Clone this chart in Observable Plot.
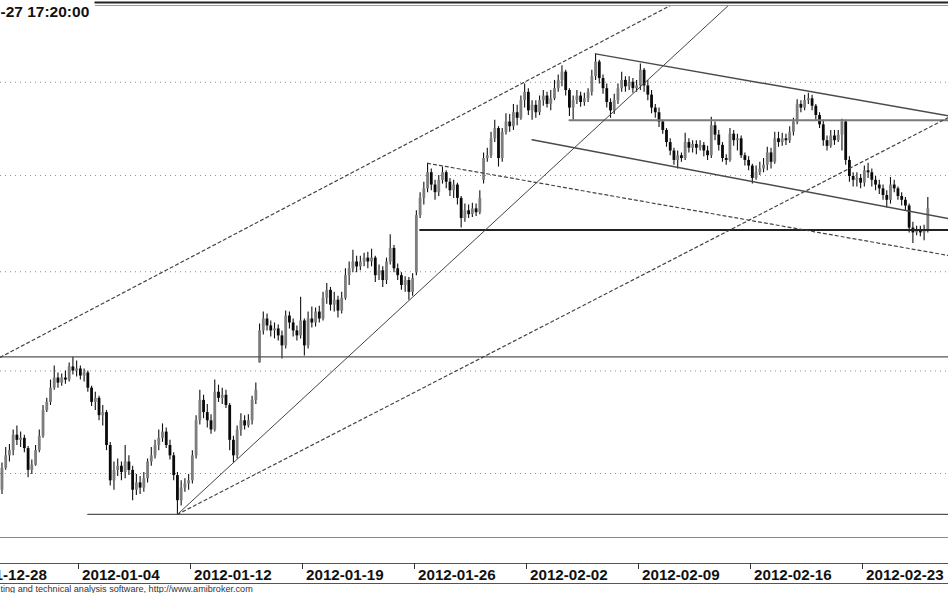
<!DOCTYPE html>
<html><head><meta charset="utf-8">
<script src="https://cdn.jsdelivr.net/npm/d3@7"></script>
<script src="https://cdn.jsdelivr.net/npm/@observablehq/plot@0.6"></script>
<style>
html,body{margin:0;padding:0;background:#fff;}
#chart svg{display:block;overflow:hidden;}
</style></head><body><div id="chart"></div>
<script>
// trading sessions (6 intraday bars per session)
const days = ["2011-12-28","2011-12-29","2011-12-30","2012-01-02","2012-01-03","2012-01-04","2012-01-05","2012-01-09","2012-01-10","2012-01-11","2012-01-12","2012-01-13","2012-01-16","2012-01-17","2012-01-18","2012-01-19","2012-01-20","2012-01-23","2012-01-24","2012-01-25","2012-01-26","2012-01-27","2012-01-30","2012-01-31","2012-02-01","2012-02-02","2012-02-03","2012-02-06","2012-02-07","2012-02-08","2012-02-09","2012-02-10","2012-02-13","2012-02-14","2012-02-15","2012-02-16","2012-02-17","2012-02-20","2012-02-21","2012-02-22","2012-02-23","2012-02-24","2012-02-27"];
const barsPerDay = 6;

const open = [
29.95,29.93,29.89,29.84,29.86,29.82, 29.84,29.86,29.82,29.84,30.05,30.17, 30.22,30.37,30.32,30.34,30.24,30.03,
30.08,30.22,30.36,30.61,30.69,30.83, 30.93,30.88,30.93,30.91,31.04,31.00, 31.02,30.95,30.98,30.83,30.69,30.73,
30.56,30.59,30.27,29.93,30.03,30.07, 30.01,30.11,30.03,29.84,29.91,29.86, 29.95,30.11,30.17,30.27,30.34,30.40,
30.27,30.17,29.98,29.74,29.86,29.90, 29.93,30.17,30.51,30.71,30.59,30.51, 30.42,30.79,30.73,30.76,30.66,30.32,
30.17,30.42,30.51,30.46,30.51,30.71, 31.08,31.40,31.52,31.45,31.40,31.42, 31.35,31.25,31.55,31.48,31.40,31.35,
31.50,31.25,31.52,31.48,31.59,31.52, 31.73,31.81,31.66,31.71,31.60,31.73, 31.96,32.03,32.10,32.05,32.10,32.14,
32.10,32.14,31.96,32.01,31.91,32.10, 32.24,32.03,31.96,31.86,31.91,31.79, 31.99,32.58,32.76,32.86,33.03,32.90,
32.82,32.95,33.03,32.93,32.84,32.90, 32.76,32.55,32.63,32.59,32.65,32.61, 32.95,33.18,33.21,33.39,33.50,33.18,
33.46,33.57,33.52,33.67,33.61,33.80, 33.89,33.69,33.75,33.67,33.80,33.85, 33.76,33.82,33.93,34.02,34.11,33.91,
33.72,33.80,33.85,33.78,33.82,33.89, 34.06,34.22,34.04,33.93,33.78,33.69, 33.80,33.93,34.02,33.95,34.00,33.93,
33.96,34.13,33.96,33.86,33.72,33.67, 33.57,33.48,33.35,33.26,33.16,33.21, 33.18,33.35,33.29,33.33,33.29,33.32,
33.26,33.21,33.53,33.43,33.32,33.18, 33.16,33.44,33.37,33.39,33.21,33.16, 33.10,32.97,33.03,33.07,33.11,33.24,
33.14,33.39,33.35,33.39,33.37,33.46, 33.57,33.76,33.72,33.80,33.82,33.74, 33.64,33.54,33.37,33.31,33.42,33.37,
33.43,33.57,33.16,32.99,32.95,32.97, 32.92,33.05,33.03,32.95,32.90,32.86, 32.79,32.74,32.90,32.86,32.78,32.74,
32.68,32.45,32.40,32.42,32.40,32.42];

const high = [
29.99,29.97,29.93,29.90,29.88,29.89, 29.89,29.88,29.86,30.10,30.25,30.28, 30.42,30.46,30.40,30.37,30.26,30.13,
30.27,30.42,30.66,30.73,30.91,31.05, 30.98,30.97,31.00,31.08,31.14,31.10, 31.05,31.02,31.00,30.85,30.79,30.75,
30.66,30.61,30.30,30.11,30.14,30.11, 30.27,30.17,30.07,29.99,29.97,30.01, 30.14,30.25,30.32,30.42,30.48,30.44,
30.32,30.20,30.01,29.93,29.95,29.99, 30.22,30.56,30.81,30.76,30.67,30.57, 30.91,30.86,30.83,30.81,30.68,30.36,
30.46,30.58,30.56,30.57,30.75,30.88, 31.47,31.59,31.57,31.50,31.48,31.46, 31.40,31.60,31.59,31.52,31.45,31.74,
31.52,31.59,31.64,31.63,31.65,31.79, 31.88,31.84,31.79,31.75,31.79,32.03, 32.10,32.22,32.16,32.16,32.19,32.20,
32.23,32.16,32.07,32.05,32.14,32.38, 32.27,32.08,31.99,31.95,31.94,31.98, 32.63,32.82,32.93,33.13,33.07,32.95,
33.00,33.09,33.05,32.97,32.95,32.92, 32.78,32.70,32.69,32.71,32.70,32.84, 33.24,33.29,33.46,33.59,33.52,33.50,
33.66,33.65,33.76,33.75,33.85,33.98, 33.93,33.80,33.80,33.85,33.91,33.89, 33.91,34.02,34.08,34.18,34.13,33.93,
33.85,33.91,33.89,33.88,33.93,34.13, 34.31,34.24,34.08,33.98,33.82,33.87, 33.98,34.11,34.06,34.06,34.04,34.02,
34.20,34.15,34.02,33.91,33.76,33.72, 33.59,33.50,33.39,33.29,33.26,33.24, 33.45,33.39,33.37,33.37,33.37,33.35,
33.31,33.62,33.57,33.48,33.35,33.22, 33.50,33.48,33.44,33.42,33.24,33.20, 33.12,33.10,33.14,33.18,33.30,33.29,
33.46,33.46,33.45,33.44,33.52,33.61, 33.81,33.80,33.86,33.88,33.86,33.76, 33.67,33.59,33.42,33.48,33.48,33.48,
33.60,33.59,33.20,33.03,33.03,33.01, 33.10,33.13,33.07,32.99,32.95,32.90, 32.84,32.98,32.95,32.88,32.82,32.77,
32.70,32.51,32.47,32.47,32.48,32.77];

const low = [
29.90,29.86,29.80,29.82,29.79,29.80, 29.81,29.79,29.78,29.80,30.03,30.11, 30.17,30.27,30.25,30.20,29.96,29.99,
30.07,30.20,30.34,30.59,30.66,30.81, 30.83,30.85,30.87,30.89,30.96,30.94, 30.91,30.89,30.79,30.65,30.61,30.51,
30.46,30.22,29.88,29.84,29.97,29.93, 29.95,29.98,29.74,29.79,29.80,29.82, 29.91,30.07,30.14,30.22,30.30,30.24,
30.13,29.93,29.61,29.69,29.82,29.84, 29.90,30.14,30.47,30.53,30.44,30.38, 30.40,30.69,30.67,30.63,30.22,30.10,
30.14,30.36,30.42,30.44,30.47,30.67, 31.08,31.36,31.40,31.34,31.32,31.30, 31.12,31.22,31.42,31.34,31.30,31.32,
31.15,31.22,31.43,31.44,31.48,31.50, 31.67,31.60,31.59,31.53,31.57,31.71, 31.86,31.99,31.99,32.01,32.05,32.03,
32.05,31.89,31.91,31.84,31.87,32.07, 31.99,31.91,31.81,31.79,31.71,31.75, 31.96,32.55,32.69,32.82,32.84,32.74,
32.78,32.91,32.86,32.78,32.76,32.69, 32.45,32.51,32.55,32.56,32.57,32.59, 32.91,33.14,33.18,33.35,33.09,33.14,
33.43,33.46,33.48,33.53,33.59,33.72, 33.64,33.59,33.61,33.64,33.74,33.72, 33.69,33.80,33.89,33.95,33.85,33.63,
33.59,33.76,33.73,33.74,33.78,33.85, 34.02,33.98,33.87,33.72,33.61,33.65, 33.76,33.89,33.89,33.91,33.88,33.89,
33.91,33.89,33.80,33.66,33.61,33.51, 33.44,33.30,33.21,33.11,33.07,33.14, 33.16,33.24,33.24,33.22,33.26,33.20,
33.16,33.18,33.37,33.26,33.14,33.11, 33.14,33.31,33.26,33.18,33.10,33.05, 32.91,32.95,33.00,33.03,33.05,33.07,
33.12,33.30,33.31,33.32,33.34,33.42, 33.54,33.67,33.69,33.76,33.69,33.59, 33.50,33.31,33.26,33.29,33.32,33.35,
33.26,33.11,32.93,32.88,32.88,32.86, 32.88,32.97,32.88,32.84,32.80,32.74, 32.66,32.70,32.82,32.74,32.68,32.63,
32.40,32.29,32.37,32.36,32.32,32.40];

const close = [
29.93,29.89,29.84,29.86,29.82,29.84, 29.86,29.82,29.84,30.05,30.17,30.22, 30.37,30.32,30.34,30.24,30.03,30.08,
30.22,30.36,30.61,30.69,30.83,30.93, 30.88,30.93,30.91,31.04,31.00,31.02, 30.95,30.98,30.83,30.69,30.73,30.56,
30.59,30.27,29.93,30.03,30.07,30.01, 30.11,30.03,29.84,29.91,29.86,29.95, 30.11,30.17,30.27,30.34,30.40,30.27,
30.17,29.98,29.74,29.86,29.90,29.93, 30.17,30.51,30.71,30.59,30.51,30.42, 30.79,30.73,30.76,30.66,30.32,30.17,
30.42,30.51,30.46,30.51,30.71,30.81, 31.40,31.52,31.45,31.40,31.42,31.35, 31.25,31.55,31.48,31.40,31.35,31.50,
31.25,31.52,31.48,31.59,31.52,31.73, 31.81,31.66,31.71,31.60,31.73,31.96, 32.03,32.10,32.05,32.10,32.14,32.10,
32.14,31.96,32.01,31.91,32.10,32.24, 32.03,31.96,31.86,31.91,31.79,31.93, 32.58,32.76,32.86,33.03,32.90,32.82,
32.95,33.03,32.93,32.84,32.90,32.76, 32.55,32.63,32.59,32.65,32.61,32.76, 33.18,33.21,33.39,33.50,33.18,33.46,
33.57,33.52,33.67,33.61,33.80,33.89, 33.69,33.75,33.67,33.80,33.85,33.76, 33.82,33.93,34.02,34.11,33.91,33.72,
33.80,33.85,33.78,33.82,33.89,34.06, 34.22,34.04,33.93,33.78,33.69,33.80, 33.93,34.02,33.95,34.00,33.93,33.96,
34.13,33.96,33.86,33.72,33.67,33.57, 33.48,33.35,33.26,33.16,33.21,33.18, 33.35,33.29,33.33,33.29,33.32,33.26,
33.21,33.53,33.43,33.32,33.18,33.16, 33.44,33.37,33.39,33.21,33.16,33.10, 32.97,33.03,33.07,33.11,33.24,33.14,
33.39,33.35,33.39,33.37,33.46,33.57, 33.76,33.72,33.80,33.82,33.74,33.64, 33.54,33.37,33.31,33.42,33.37,33.43,
33.57,33.16,32.99,32.95,32.97,32.92, 33.05,33.03,32.95,32.90,32.86,32.79, 32.74,32.90,32.86,32.78,32.74,32.68,
32.45,32.40,32.42,32.40,32.42,32.65];

const gridPrices = [30, 31, 32, 33, 34];
const tickDays = ["2011-12-28","2012-01-04","2012-01-12","2012-01-19","2012-01-26","2012-02-02","2012-02-09","2012-02-16","2012-02-23"];

// drawn studies: [bar number, price] anchors
const levelEnd = 265;
const thinLevels = [[0, 31.14], [32, 29.61]];
const boldLevels = [[121, 32.43]];
const greyLevels = [[161, 33.59]];
const solidTrends = [[56, 29.61, 212, 35.17]];
const channelTrends = [[168, 34.31, 265, 33.62], [151, 33.38, 265, 32.53]];
const dashedTrends = [[56, 29.61, 265, 33.67], [0, 30.97, 220, 35.55], [123, 33.13, 265, 32.15]];

const title = "-27 17:20:00";
const footer = "ting and technical analysis software, http://www.amibroker.com";

const bars = close.map((c, i) => ({i, o: open[i], h: high[i], l: low[i], c}));
const ticks = tickDays.map(d => ({x: days.indexOf(d) * barsPerDay - 0.5, label: d}));
const segs = list => list.flatMap((t, k) => [{x: t[0], y: t[1], k}, {x: t[2], y: t[3], k}]);
const lvls = list => list.flatMap((t, k) => [{x: t[0], y: t[1], k}, {x: levelEnd, y: t[1], k}]);

const chart = Plot.plot({
  width: 948, height: 593,
  marginTop: 5, marginBottom: 56, marginLeft: 0, marginRight: 0,
  x: {type: "linear", domain: [8.607, 262.54], axis: null},
  y: {type: "log", domain: [29.392, 34.845], axis: null},
  style: {fontFamily: "'Liberation Sans', Arial, sans-serif", background: "#fff", color: "#111"},
  marks: [
    Plot.ruleY(gridPrices, {stroke: "#8a8a8a", strokeDasharray: "1,4"}),
    Plot.ruleX(bars, {x: "i", y1: "l", y2: "h", stroke: "#111", strokeWidth: 1.1, clip: true}),
    Plot.ruleX(bars, {x: "i", y1: "o", y2: "c", stroke: d => d.c >= d.o ? "#7d7d7d" : "#0a0a0a", strokeWidth: 2.8, clip: true}),
    Plot.line(lvls(thinLevels), {x: "x", y: "y", z: "k", stroke: "#555", strokeWidth: 1.3, clip: true}),
    Plot.line(lvls(boldLevels), {x: "x", y: "y", z: "k", stroke: "#222", strokeWidth: 2, clip: true}),
    Plot.line(lvls(greyLevels), {x: "x", y: "y", z: "k", stroke: "#7a7a7a", strokeWidth: 2, clip: true}),
    Plot.line(segs(solidTrends), {x: "x", y: "y", z: "k", stroke: "#444", strokeWidth: 1, clip: true}),
    Plot.line(segs(channelTrends), {x: "x", y: "y", z: "k", stroke: "#4a4a4a", strokeWidth: 1.5, clip: true}),
    Plot.line(segs(dashedTrends), {x: "x", y: "y", z: "k", stroke: "#444", strokeWidth: 1.2, strokeDasharray: "3,3", clip: true}),
    Plot.frame({anchor: "bottom", stroke: "#8a8a8a"}),
    Plot.frame({anchor: "top", stroke: "#9a9a9a", insetLeft: 95}),
    Plot.frame({anchor: "top", stroke: "#222", strokeWidth: 2, insetLeft: 95, dy: -3}),
    Plot.frame({anchor: "bottom", stroke: "#555", dy: 26}),
    Plot.frame({anchor: "bottom", stroke: "#555", dy: 46}),
    Plot.ruleX(ticks, {x: "x", insetTop: 558, insetBottom: -32, stroke: "#333"}),
    Plot.text(ticks, {x: "x", text: "label", frameAnchor: "bottom", dy: 42, dx: 3.5, textAnchor: "start", lineAnchor: "bottom", fontSize: 15.2, fontWeight: "bold", fill: "#111"}),
    Plot.text([title], {text: d => d, frameAnchor: "top-left", dy: 11, textAnchor: "start", lineAnchor: "bottom", fontSize: 15.5, fontWeight: "bold", fill: "#111"}),
    Plot.text([footer], {text: d => d, frameAnchor: "bottom-left", dy: 54, textAnchor: "start", lineAnchor: "bottom", fontSize: 9.1, fill: "#333"})
  ]
});
document.getElementById("chart").append(chart);
</script>
</body></html>
